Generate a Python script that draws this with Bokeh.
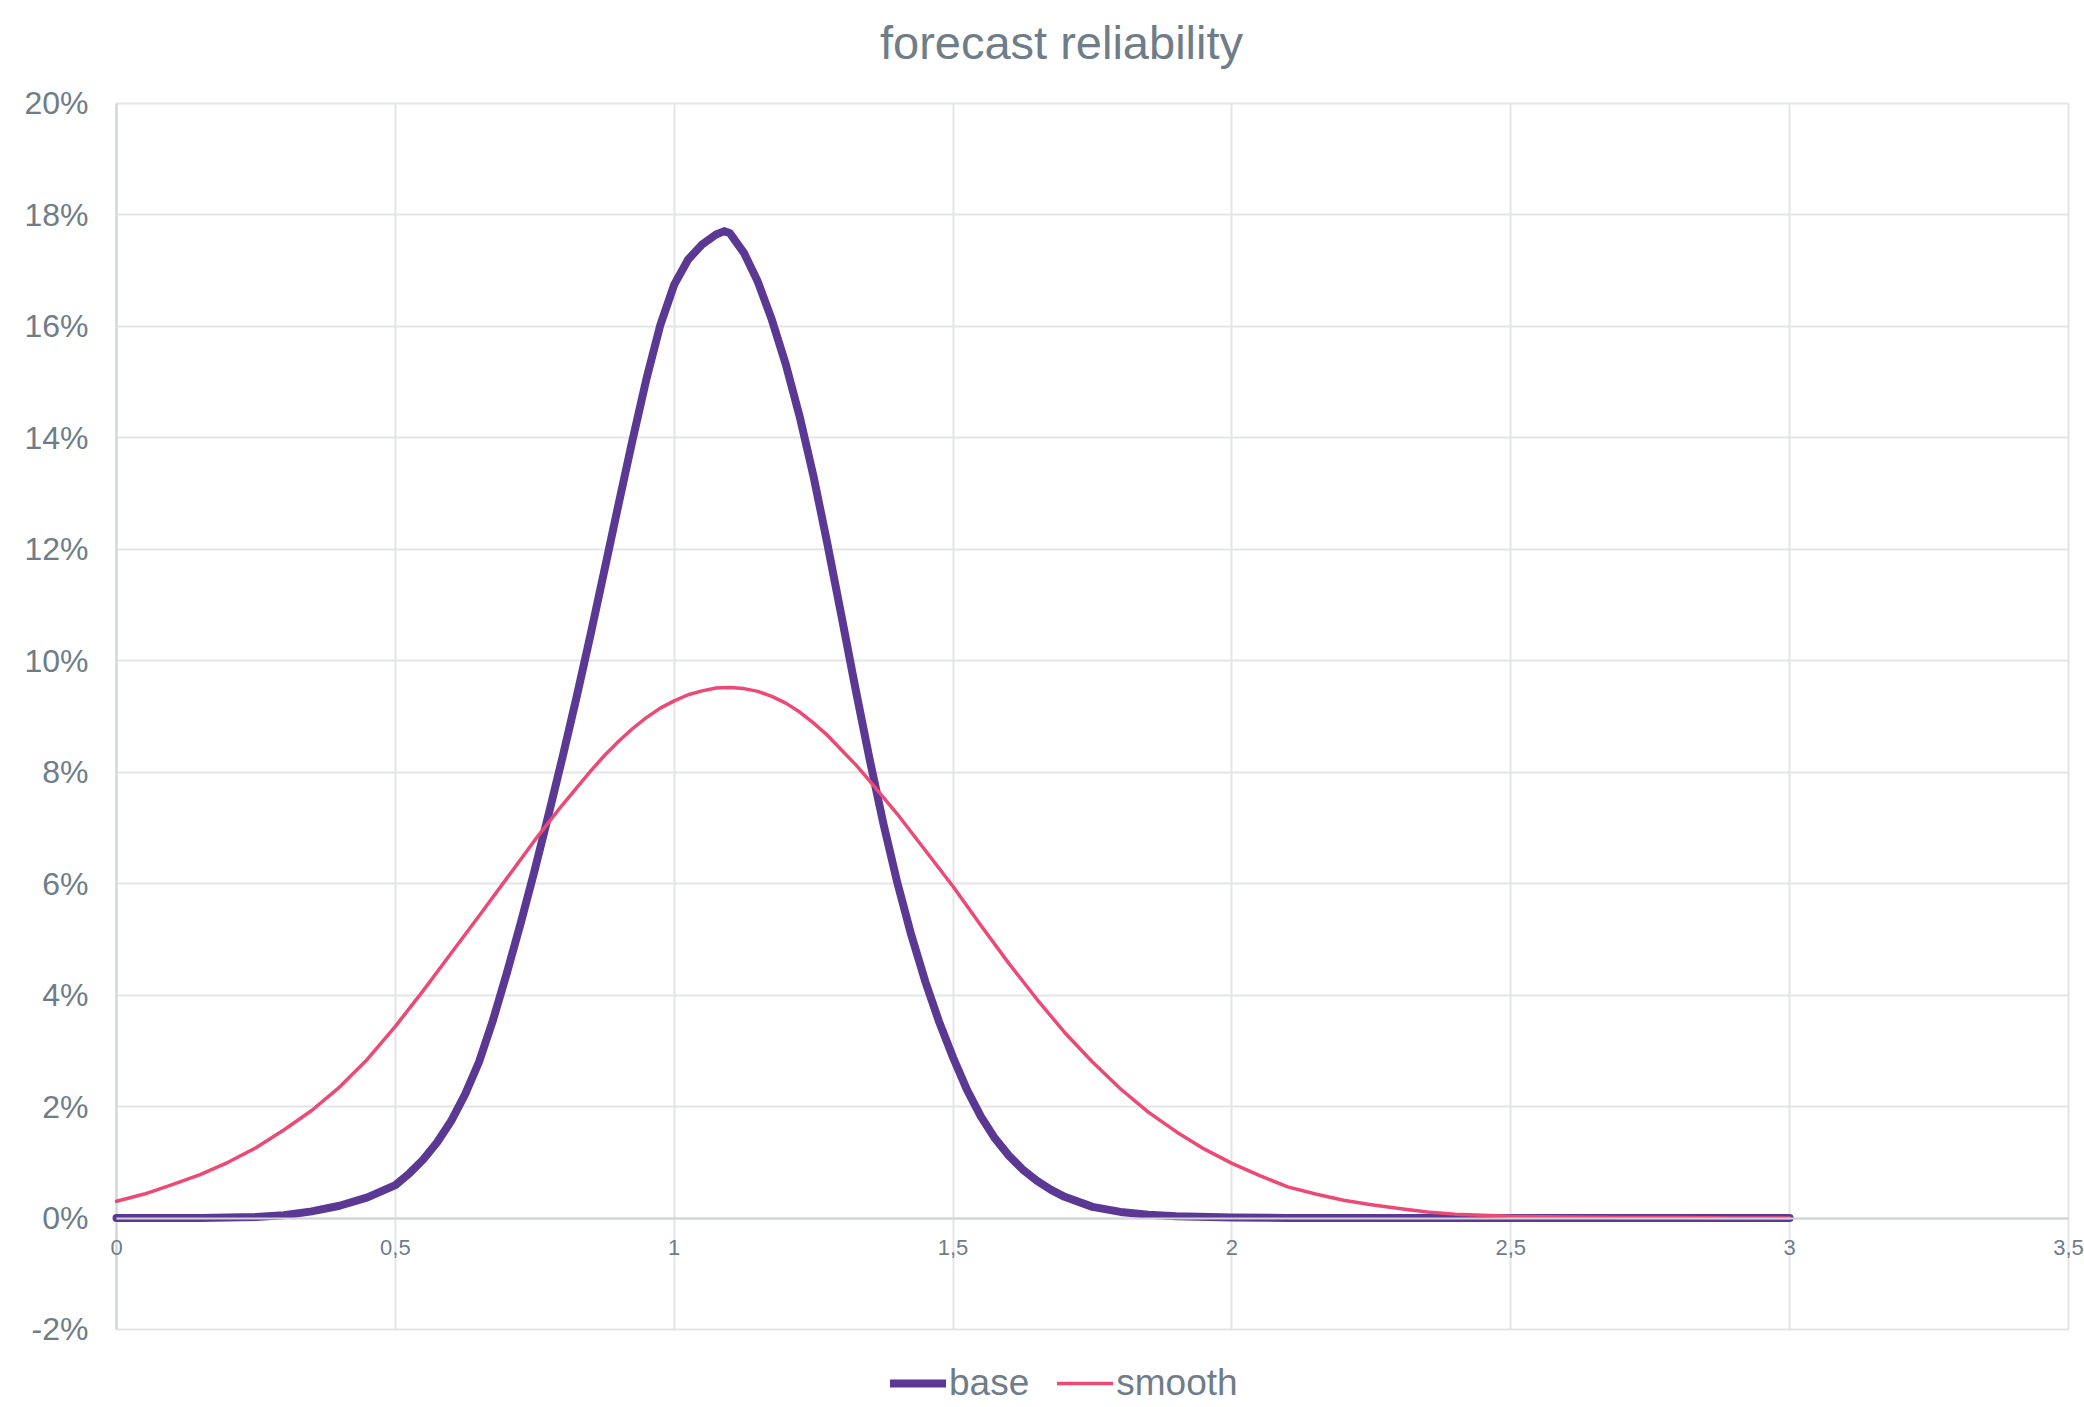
from bokeh.plotting import figure
from bokeh.models import FixedTicker, Grid, Label, Legend, LegendItem, Range1d
from bokeh.embed import file_html
from bokeh.resources import INLINE

title_text = "forecast reliability"
series_names = ["base", "smooth"]

x_ticks = [0, 0.5, 1, 1.5, 2, 2.5, 3, 3.5]
x_tick_labels = ["0", "0,5", "1", "1,5", "2", "2,5", "3", "3,5"]
y_ticks = [-2, 0, 2, 4, 6, 8, 10, 12, 14, 16, 18, 20]
y_tick_labels = ["-2%", "0%", "2%", "4%", "6%", "8%", "10%", "12%", "14%", "16%", "18%", "20%"]

base_x = [0.0, 0.05, 0.1, 0.15, 0.2, 0.25, 0.3, 0.35, 0.4, 0.45, 0.5,
          0.525, 0.55, 0.575, 0.6, 0.625, 0.65, 0.675, 0.7, 0.725, 0.75,
          0.775, 0.8, 0.825, 0.85, 0.875, 0.9, 0.925, 0.95, 0.975, 1.0,
          1.025, 1.05, 1.075, 1.09, 1.1, 1.125, 1.15, 1.175, 1.2, 1.225,
          1.25, 1.275, 1.3, 1.325, 1.35, 1.375, 1.4, 1.425, 1.45, 1.475,
          1.5, 1.525, 1.55, 1.575, 1.6, 1.625, 1.65, 1.675, 1.7,
          1.75, 1.8, 1.85, 1.9, 2.0, 2.1, 2.2, 2.4, 2.6, 2.8, 3.0]
base_y = [0.0, 0.0, 0.0, 0.0, 0.01, 0.02, 0.05, 0.12, 0.22, 0.37, 0.59,
          0.80, 1.05, 1.36, 1.74, 2.22, 2.80, 3.55, 4.40, 5.30, 6.25,
          7.25, 8.28, 9.35, 10.47, 11.63, 12.80, 13.95, 15.05, 16.02, 16.75,
          17.20, 17.47, 17.65, 17.71, 17.67, 17.32, 16.80, 16.12, 15.32, 14.38,
          13.30, 12.08, 10.80, 9.50, 8.25, 7.08, 6.02, 5.08, 4.25, 3.52,
          2.88, 2.30, 1.82, 1.43, 1.12, 0.87, 0.67, 0.51, 0.38,
          0.20, 0.11, 0.06, 0.03, 0.01, 0.0, 0.0, 0.0, 0.0, 0.0, 0.0]

smooth_x = [0.0, 0.05, 0.1, 0.15, 0.2, 0.25, 0.3, 0.35, 0.4, 0.45,
            0.5, 0.55, 0.6, 0.65, 0.7, 0.75, 0.8, 0.85, 0.875, 0.9,
            0.925, 0.95, 0.975, 1.0, 1.025, 1.05, 1.075, 1.1, 1.125, 1.15,
            1.175, 1.2, 1.225, 1.25, 1.275, 1.3, 1.325, 1.35, 1.4, 1.45,
            1.5, 1.55, 1.6, 1.65, 1.7, 1.75, 1.8, 1.85, 1.9, 1.95,
            2.0, 2.05, 2.1, 2.15, 2.2, 2.25, 2.3, 2.35, 2.4, 2.45,
            2.5, 2.6, 2.7, 2.8, 2.9, 3.0]
smooth_y = [0.30, 0.43, 0.60, 0.78, 1.00, 1.26, 1.58, 1.93, 2.35, 2.85,
            3.44, 4.08, 4.75, 5.42, 6.10, 6.78, 7.42, 8.02, 8.30, 8.55,
            8.78, 8.98, 9.15, 9.28, 9.39, 9.46, 9.51, 9.52, 9.50, 9.45,
            9.36, 9.24, 9.08, 8.88, 8.66, 8.40, 8.14, 7.85, 7.25, 6.60,
            5.95, 5.25, 4.57, 3.93, 3.33, 2.80, 2.32, 1.90, 1.55, 1.24,
            0.98, 0.76, 0.56, 0.43, 0.32, 0.24, 0.17, 0.11, 0.07, 0.05,
            0.03, 0.02, 0.01, 0.01, 0.0, 0.0]

FONT = "Liberation Sans"
TEXT = "#6e7d88"
GRID = "#e2e5e8"
AXIS = "#cfd4d8"
BASE_COLOR = "#5b3894"
SMOOTH_COLOR = "#ec4a74"

# The frame fills the canvas; ranges are padded beyond the drawn chart area
# (0..3.5, -2..20) so the title, end tick labels and legend are not clipped.
p = figure(width=2084, height=1407, output_backend="svg", toolbar_location=None,
           x_range=Range1d(-0.01434, 3.52869), y_range=Range1d(-3.4, 21.848),
           min_border_left=108, min_border_right=0, min_border_top=0, min_border_bottom=0)
p.outline_line_color = None
p.background_fill_color = "white"
p.border_fill_color = "white"

p.add_layout(Label(x=1.6944, y=21.10, text=title_text,
                   text_align="center", text_baseline="alphabetic",
                   text_font=FONT, text_font_size="47px", text_color=TEXT))

p.xgrid.ticker = FixedTicker(ticks=x_ticks)
p.ygrid.ticker = FixedTicker(ticks=y_ticks)
p.xgrid.cross_bounds = (-2, 20)
p.ygrid.cross_bounds = (0, 3.5)
p.grid.grid_line_color = GRID
p.grid.grid_line_width = 2

# darker vertical line at x = 0 (y-axis line)
p.add_layout(Grid(dimension=0, ticker=FixedTicker(ticks=[0]), cross_bounds=(-2, 20),
                  grid_line_color=AXIS, grid_line_width=2))

xa = p.xaxis[0]
xa.fixed_location = 0
xa.bounds = (0, 3.5)
xa.ticker = FixedTicker(ticks=x_ticks)
xa.major_label_overrides = {t: l for t, l in zip(x_ticks, x_tick_labels)}
xa.major_tick_line_color = None
xa.minor_tick_line_color = None
xa.major_tick_out = 0
xa.major_tick_in = 0
xa.axis_line_color = AXIS
xa.axis_line_width = 2
xa.major_label_standoff = 22
xa.major_label_text_font = FONT
xa.major_label_text_font_size = "22px"
xa.major_label_text_color = TEXT

ya = p.yaxis[0]
ya.ticker = FixedTicker(ticks=y_ticks)
ya.major_label_overrides = {t: l for t, l in zip(y_ticks, y_tick_labels)}
ya.major_tick_line_color = None
ya.minor_tick_line_color = None
ya.major_tick_out = 0
ya.major_tick_in = 0
ya.axis_line_color = None
ya.major_label_standoff = 20
ya.major_label_text_font = FONT
ya.major_label_text_font_size = "32px"
ya.major_label_text_color = TEXT

r_base = p.line(base_x, base_y, line_color=BASE_COLOR, line_width=8,
                line_cap="round", line_join="round")
r_smooth = p.line(smooth_x, smooth_y, line_color=SMOOTH_COLOR, line_width=3.5,
                  line_cap="round", line_join="round")

legend = Legend(items=[LegendItem(label=series_names[0], renderers=[r_base]),
                       LegendItem(label=series_names[1], renderers=[r_smooth])],
                orientation="horizontal", location=(782, 3),
                background_fill_alpha=0, border_line_color=None,
                padding=0, margin=0, spacing=28, label_standoff=3,
                glyph_width=56, glyph_height=20, label_height=20,
                label_text_font=FONT, label_text_font_size="37px",
                label_text_color=TEXT)
p.add_layout(legend, "center")

open("out.html", "w").write(file_html(p, INLINE))
